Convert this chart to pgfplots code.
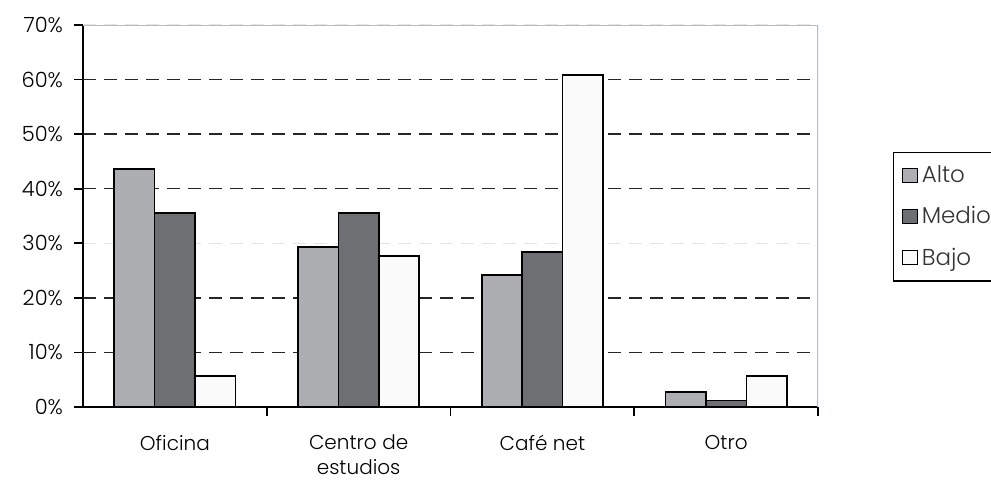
\documentclass[border=0pt]{standalone}
\usepackage{fontspec}
\setmainfont{Poppins}[UprightFont={* Light}]
\usepackage{pgfplots}
\pgfplotsset{compat=1.18}
\definecolor{alto}{RGB}{172,174,177}
\definecolor{medio}{RGB}{109,111,114}
\definecolor{bajo}{RGB}{250,250,250}
\definecolor{frame}{RGB}{175,190,200}

\begin{document}
\begin{tikzpicture}
	\begin{axis}[
		scale only axis,
		width=367.5pt, height=191pt,
		xmin=-0.5, xmax=3.5,
		ymin=0, ymax=70,
		axis x line*=bottom, axis y line*=left,
		axis line style={black, line width=0.9pt},
		ybar=0pt, bar width=0.22,
		xtick={0,1,2,3},
		xticklabels={Oficina, {Centro de\\estudios}, Café net, Otro},
		xticklabel style={align=center, font=\fontsize{10}{12.5}\selectfont, yshift=-6pt},
		xtick style={draw=none},
		extra x ticks={0.5,1.5,2.5,3.5},
		extra x tick labels={},
		extra x tick style={xtick style={draw=black, line width=0.9pt}, tick align=outside, major tick length=4.5pt},
		ytick={0,10,...,70},
		yticklabels={0\%,10\%,20\%,30\%,40\%,50\%,60\%,70\%},
		yticklabel style={font=\fontsize{10.5}{12}\selectfont, xshift=-2pt},
		ytick style={draw=black, line width=0.9pt},
		tick align=outside, major tick length=4.5pt,
		ymajorgrids,
		major grid style={gray!20, dash pattern=on 6.5pt off 4pt, line width=0.7pt},
		extra y ticks={10,20,40,50,60},
		extra y tick labels={},
		extra y tick style={grid=major, major grid style={black!85, dash pattern=on 6.5pt off 4pt, line width=0.7pt}},
		legend style={at={(1.102,0.668)}, anchor=north west, draw=black, line width=0.6pt,
			font=\fontsize{11.5}{13}\selectfont, text=black!80, row sep=6.5pt, inner xsep=4pt, inner ysep=4.5pt,
			legend cell align=left},
		legend image code/.code={\draw[#1, line width=0.6pt] (0pt,-3.5pt) rectangle (7.5pt,3.5pt);},
	]
		% Alto
		\addplot[fill=alto, draw=black, line width=0.8pt]
			coordinates {(0,43.6) (1,29.3) (2,24.2) (3,2.8)};
		% Medio
		\addplot[fill=medio, draw=black, line width=0.8pt]
			coordinates {(0,35.5) (1,35.5) (2,28.4) (3,1.2)};
		% Bajo
		\addplot[fill=bajo, draw=black, line width=0.8pt]
			coordinates {(0,5.7) (1,27.7) (2,60.8) (3,5.7)};
		\legend{Alto, Medio, Bajo}
		\draw[frame, line width=0.7pt] (rel axis cs:0,1) -- (rel axis cs:1,1) -- (rel axis cs:1,0);
	\end{axis}
	\pgfresetboundingbox
	\path (current axis.south west) ++(-41.5pt,-39.5pt) rectangle ++(495.5pt,243pt);
\end{tikzpicture}
\end{document}
